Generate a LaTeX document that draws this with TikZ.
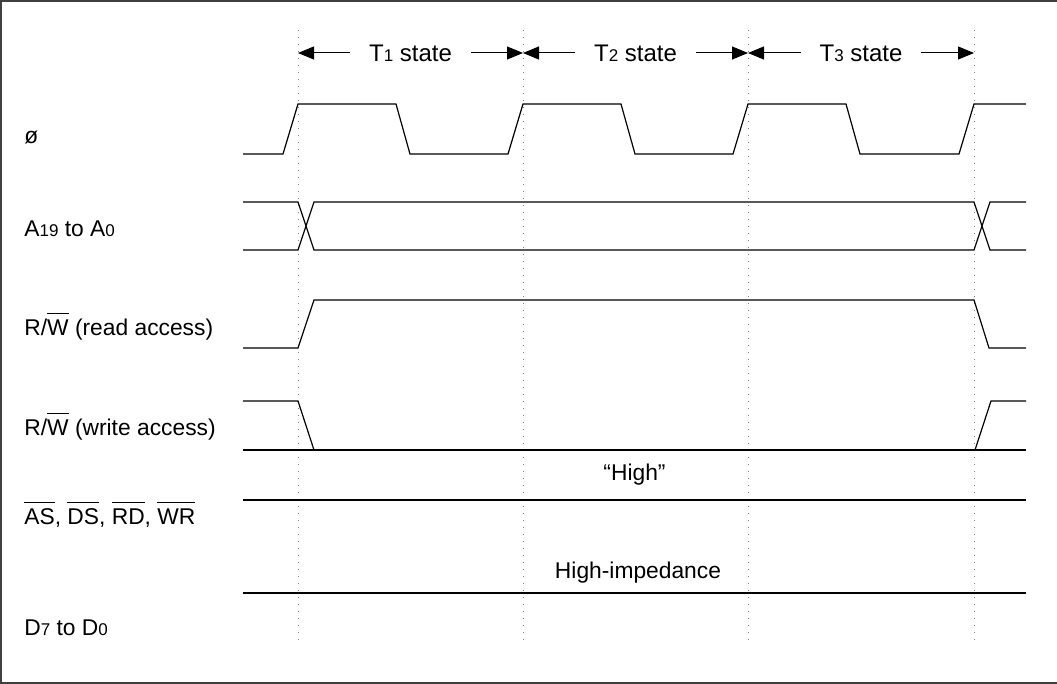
\documentclass[tikz,border=0pt]{standalone}
\usepackage{fontspec}
\setmainfont{Liberation Sans}
\newcommand{\kecil}[1]{{\fontsize{8.5}{8.5}\selectfont #1}}
\newcommand{\garis}[1]{\ensuremath{\overline{\raisebox{0pt}[9.9pt]{#1}}}}
\usetikzlibrary{calc,positioning,arrows.meta}
\tikzset{
	sinyal/.style={line width=0.6pt},
	batas/.style={gray, line width=0.5pt, dash pattern=on 0.5pt off 3pt},
	panah/.style={line width=0.5pt, {Triangle[length=8pt,width=6.5pt]}-{Triangle[length=8pt,width=6.5pt]}},
	teks/.style={fill=white, inner xsep=9.5pt, inner ysep=1pt, font=\fontsize{12}{14}\selectfont},
	nama/.style={anchor=base west, inner sep=0pt}
}

\begin{document}
\begin{tikzpicture}[x=0.5pt,y=-0.5pt,font=\fontsize{11.4}{13.5}\selectfont]
\useasboundingbox (0,0) rectangle (1057,684);

% bingkai
\draw[black!75, line width=0.6pt] (1057,1) -- (1,1) -- (1,683) -- (1057,683);

% titik-titik batas state
\coordinate (S0) at (298,30);
\coordinate (S1) at (523,30);
\coordinate (S2) at (748,30);
\coordinate (S3) at (974,30);

% garis batas state
\draw[batas] (S0) -- (298,641);
\draw[batas] (S1) -- (523,641);
\draw[batas] (S2) -- (748,641);
\draw[batas] (S3) -- (974,641);

% panah state
\draw[panah] ($(S0)+(0,23)$) -- node[teks]{T\kecil{1} state} ($(S1)+(0,23)$);
\draw[panah] ($(S1)+(0,23)$) -- node[teks]{T\kecil{2} state} ($(S2)+(0,23)$);
\draw[panah] ($(S2)+(0,23)$) -- node[teks]{T\kecil{3} state} ($(S3)+(0,23)$);

% nama sinyal
\node[nama] (phi) at (24,144) {ø};
\node[nama] (addr) at (24,237) {A\kecil{19} to A\kecil{0}};
\node[nama] (rwr) at (24,336) {R/\garis{W} (read access)};
\node[nama] (rww) at (24,436) {R/\garis{W} (write access)};
\node[nama] (strb) at (24,525) {\garis{AS}, \garis{DS}, \garis{RD}, \garis{WR}};
\node[nama] (data) at (24,636) {D\kecil{7} to D\kecil{0}};

% clock
\draw[sinyal] (243,154) -- (283,154) -- (298,104) -- (396,104) -- (410,154)
	-- (508,154) -- (523,104) -- (621,104) -- (635,154)
	-- (733,154) -- (748,104) -- (846,104) -- (860,154)
	-- (959,154) -- (974,104) -- (1026,104);

% alamat
\draw[sinyal] (243,202) -- (298,202) -- (314,250) -- (974,250) -- (990,202) -- (1026,202);
\draw[sinyal] (243,250) -- (298,250) -- (314,202) -- (974,202) -- (990,250) -- (1026,250);

% R/W baca
\draw[sinyal] (243,348) -- (298,348) -- (314,300) -- (974,300) -- (989,348) -- (1026,348);

% R/W tulis
\draw[sinyal] (243,401) -- (298,401) -- (314,450);
\draw[sinyal] (975,450) -- (991,401) -- (1026,401);
\draw[sinyal] (243,450) -- (1026,450);

% strobe dan data
\draw[sinyal] (243,500) -- node[above=4pt]{“High”} (1026,500);
\draw[sinyal] (243,593) -- (1026,593);
\node[anchor=base] (hiz) at (638,579) {High-impedance};

\end{tikzpicture}
\end{document}
